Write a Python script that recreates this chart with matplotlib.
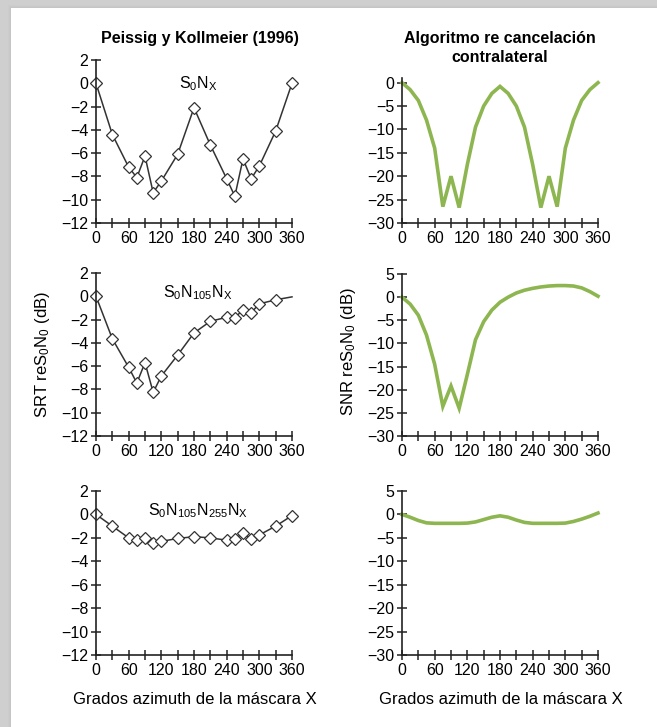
import numpy as np
import matplotlib
matplotlib.use("Agg")
import matplotlib.pyplot as plt
from matplotlib.patches import Rectangle
from matplotlib.ticker import MultipleLocator

plt.rcParams['font.family'] = ['Liberation Sans', 'DejaVu Sans']
plt.rcParams['mathtext.fontset'] = 'custom'
plt.rcParams['mathtext.rm'] = 'Liberation Sans'
plt.rcParams['mathtext.it'] = 'Liberation Sans'
plt.rcParams['mathtext.default'] = 'regular'

# Peissig y Kollmeier (1996) - measured SRT
az_meas = [0, 30, 60, 75, 90, 105, 120, 150, 180, 210, 240, 255, 270, 285, 300, 330, 360]
srt_s0nx = [0, -4.4, -7.2, -8.1, -6.25, -9.4, -8.4, -6.1, -2.1, -5.3, -8.2, -9.7, -6.5, -8.2, -7.1, -4.1, 0]
srt_s0n105nx = [0, -3.65, -6.1, -7.45, -5.7, -8.25, -6.85, -5.05, -3.15, -2.15, -1.8, -1.85, -1.15, -1.4, -0.65, -0.3, -0.05]
srt_s0n105n255nx = [0, -1.0, -2.0, -2.2, -2.0, -2.45, -2.3, -2.05, -1.9, -2.0, -2.2, -2.1, -1.6, -2.1, -1.75, -1.0, -0.1]

# Algoritmo re cancelacion contralateral - predicted SNR
az_alg = [0, 15, 30, 45, 60, 75, 90, 105, 120, 135, 150, 165, 180,
          195, 210, 225, 240, 255, 270, 285, 300, 315, 330, 345, 360]
snr_s0nx = [0, -1.5, -3.8, -8.0, -14.0, -26.5, -20.0, -26.7, -17.5, -9.5, -5.0, -2.3, -0.8,
            -2.3, -5.0, -9.5, -17.5, -26.7, -20.0, -26.5, -14.0, -8.0, -3.8, -1.5, 0]
snr_s0n105nx = [0, -1.5, -3.9, -8.2, -14.5, -23.6, -19.2, -24.0, -16.7, -9.2, -5.3, -2.8, -1.1,
                0.0, 0.9, 1.5, 1.9, 2.2, 2.4, 2.5, 2.5, 2.4, 2.0, 1.2, 0.2]
snr_s0n105n255nx = [0, -0.6, -1.3, -1.8, -1.9, -1.9, -1.9, -1.9, -1.85, -1.6, -1.1, -0.6, -0.3,
                    -0.6, -1.2, -1.7, -1.9, -1.9, -1.9, -1.9, -1.85, -1.5, -1.0, -0.4, 0.3]

left_series = [srt_s0nx, srt_s0n105nx, srt_s0n105n255nx]
left_marks = [list(range(17)), list(range(16)), list(range(17))]
right_series = [snr_s0nx, snr_s0n105nx, snr_s0n105n255nx]
labels = [r'S$_0$N$_X$', r'S$_0$N$_{105}$N$_X$', r'S$_0$N$_{105}$N$_{255}$N$_X$']
label_y = [0.0, 0.3, 0.35]

W, H = 657, 727
fig = plt.figure(figsize=(W / 100, H / 100), dpi=100, facecolor='#cfcfcf')
# soft shadow then white card
for k, a in enumerate([0.06, 0.08, 0.1]):
    fig.patches.append(Rectangle(((8 + k) / W, 0), 1, 1 - (5 + k) / H, transform=fig.transFigure,
                                 facecolor='#aaaaaa', alpha=a, edgecolor='none', zorder=-11))
fig.patches.append(Rectangle((11 / W, 0), 1, 1 - 8 / H, transform=fig.transFigure,
                             facecolor='white', edgecolor='none', zorder=-10))


def px_axes(x0, x1, y0, y1):
    return fig.add_axes([x0 / W, 1 - y1 / H, (x1 - x0) / W, (y1 - y0) / H])


def style(ax):
    for s in ['top', 'right']:
        ax.spines[s].set_visible(False)
    for s in ['left', 'bottom']:
        ax.spines[s].set_color('#222222')
        ax.spines[s].set_linewidth(1.2)
    ax.set_xlim(0, 360)
    ax.xaxis.set_major_locator(MultipleLocator(60))
    ax.xaxis.set_minor_locator(MultipleLocator(30))
    ax.tick_params(which='both', direction='inout', length=7, width=1.1,
                   color='#222222', labelsize=11.5, pad=2)
    ax.set_facecolor('none')


left_rows = [(60, 223), (273, 436), (491, 655)]
right_rows = [(78, 223), (274, 436), (491, 655)]

for i in range(3):
    ax = px_axes(96, 292, *left_rows[i])
    style(ax)
    ax.set_ylim(-12, 2)
    ax.yaxis.set_major_locator(MultipleLocator(2))
    ax.plot(az_meas, left_series[i], color='#333333', lw=1.1, marker='D', ms=6.3,
            mfc='white', mec='#333333', mew=0.9, markevery=left_marks[i], clip_on=False)
    ax.text(187, label_y[i], labels[i], ha='center', va='center', fontsize=11.5)

    ax2 = px_axes(402, 598, *right_rows[i])
    style(ax2)
    ax2.set_ylim(-30, 1 if i == 0 else 5)
    ax2.yaxis.set_major_locator(MultipleLocator(5))
    ax2.plot(az_alg, right_series[i], color='#8db650', lw=2.6, clip_on=False,
             solid_joinstyle='miter')

fig.text(200 / W, 1 - 38 / H, 'Peissig y Kollmeier (1996)', ha='center', va='center',
         fontsize=11.5, fontweight='bold')
fig.text(500 / W, 1 - 38 / H, 'Algoritmo re cancelación', ha='center', va='center',
         fontsize=11.5, fontweight='bold')
fig.text(500 / W, 1 - 57 / H, 'contralateral', ha='center', va='center',
         fontsize=11.5, fontweight='bold')

fig.text(42 / W, 1 - 355 / H, r'SRT reS$_0$N$_0$ (dB)', rotation=90, ha='center', va='center',
         fontsize=12)
fig.text(348 / W, 1 - 352 / H, r'SNR reS$_0$N$_0$ (dB)', rotation=90, ha='center', va='center',
         fontsize=12)

fig.text(195 / W, 1 - 700 / H, 'Grados azimuth de la máscara X', ha='center', va='center',
         fontsize=12)
fig.text(501 / W, 1 - 700 / H, 'Grados azimuth de la máscara X', ha='center', va='center',
         fontsize=12)

fig.savefig('out.png', dpi=100, facecolor=fig.get_facecolor())
